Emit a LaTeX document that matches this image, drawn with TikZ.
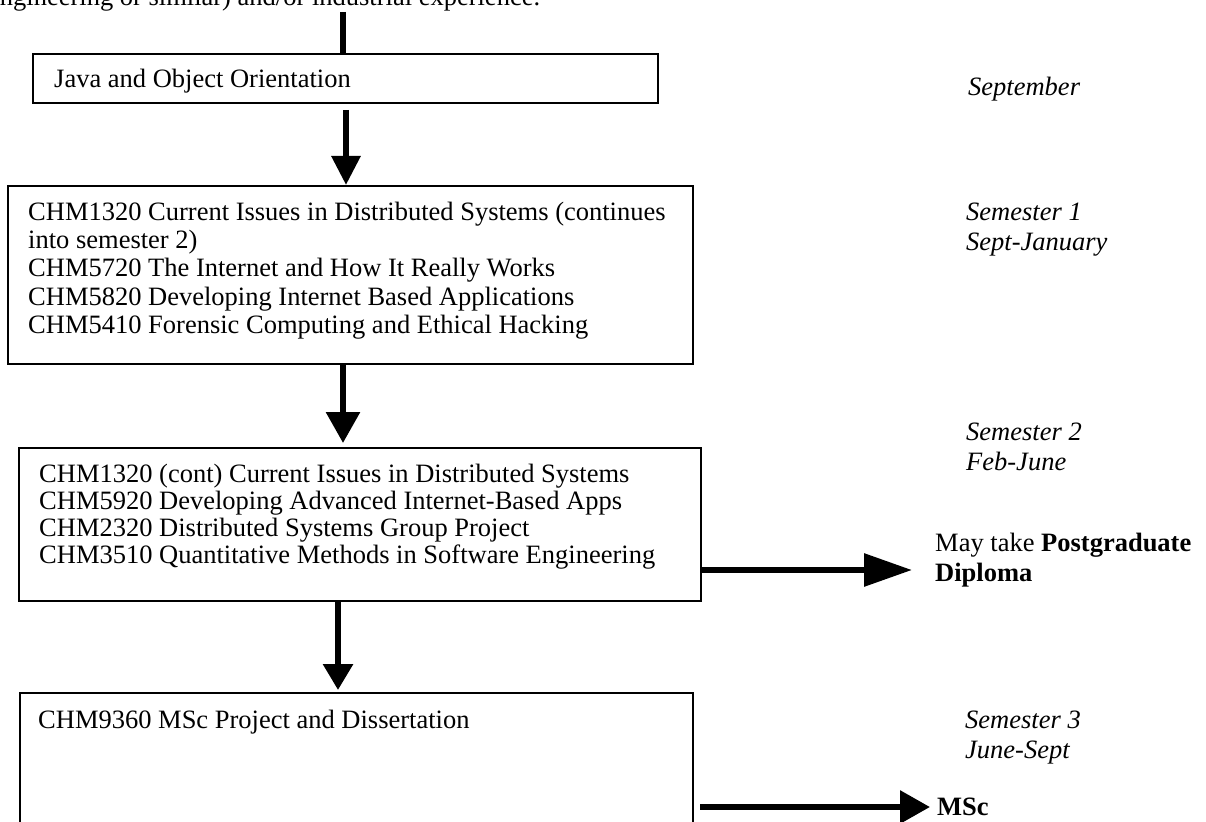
\documentclass[tikz,border=0pt]{standalone}
\usepackage{fontspec}
\setmainfont{Liberation Serif}
\usetikzlibrary{arrows.meta}
\tikzset{
  box/.style={draw, line width=2pt, inner sep=0pt, anchor=north west},
  txt/.style={inner sep=0pt, anchor=base west, font=\fontsize{26.5}{28}\selectfont},
  itx/.style={inner sep=0pt, anchor=base west, font=\fontsize{26.5}{28}\selectfont\itshape},
  shaft/.style={line width=6pt, line cap=butt},
}
\begin{document}
\begin{tikzpicture}[x=1pt,y=-1pt]
\useasboundingbox (0,0) rectangle (1206,821);
\fill[white] (0,0) rectangle (1206,821);

% top (clipped) text
\node[txt] (intro) at (-12,6) {engineering or similar) and/or industrial experience.};

% boxes
\node[box, minimum width=625pt, minimum height=49pt] (b1) at (32,53) {};
\node[box, minimum width=685pt, minimum height=178pt] (b2) at (7,185) {};
\node[box, minimum width=682pt, minimum height=153pt] (b3) at (18,447) {};
\node[box, minimum width=673pt, minimum height=150pt] (b4) at (19,692) {};

% box texts
\node[txt] (t1) at (54,88) {Java and Object Orientation};

\node[txt] (t21) at (28,220) {CHM1320 Current Issues in Distributed Systems (continues};
\node[txt] (t22) at (28,248.3) {into semester 2)};
\node[txt] (t23) at (28,276.6) {CHM5720 The Internet and How It Really Works};
\node[txt] (t24) at (28,305) {CHM5820 Developing Internet Based Applications};
\node[txt] (t25) at (28,333) {CHM5410 Forensic Computing and Ethical Hacking};

\node[txt] (t31) at (39,482) {CHM1320 (cont) Current Issues in Distributed Systems};
\node[txt] (t32) at (39,509) {CHM5920 Developing Advanced Internet-Based Apps};
\node[txt] (t33) at (39,536) {CHM2320 Distributed Systems Group Project};
\node[txt] (t34) at (39,563) {CHM3510 Quantitative Methods in Software Engineering};

\node[txt] (t41) at (38,728) {CHM9360 MSc Project and Dissertation};

% right column
\node[itx] (sep) at (968,96) {September};
\node[itx] (s1a) at (966,220) {Semester 1};
\node[itx] (s1b) at (966,250) {Sept-January};
\node[itx] (s2a) at (966,440) {Semester 2};
\node[itx] (s2b) at (966,470) {Feb-June};
\node[txt] (pg1) at (935,551) {May take \textbf{Postgraduate}};
\node[txt] (pg2) at (935,581) {\textbf{Diploma}};
\node[itx] (s3a) at (965,728) {Semester 3};
\node[itx] (s3b) at (965,758) {June-Sept};
\node[txt] (msc) at (937,815) {\textbf{MSc}};

% connectors
\coordinate (top) at (343,12);
\draw[line width=5.5pt] (top) -- (top |- b1.north);

\coordinate (xA) at (346,110);
\draw[shaft, -{Triangle[length=29pt,width=28pt]}] (xA) -- (xA |- b2.north);

\coordinate (xB) at (343,0);
\draw[shaft, -{Triangle[length=31pt,width=33pt]}, shorten >=4pt] (xB |- b2.south) -- (xB |- b3.north);

\coordinate (xC) at (338,0);
\draw[shaft, -{Triangle[length=26pt,width=29pt]}, shorten >=2pt] (xC |- b3.south) -- (xC |- b4.north);

\coordinate (yR1) at (0,570);
\draw[shaft, -{Triangle[length=48pt,width=32pt]}, shorten >=23pt] (b3.east |- yR1) -- (pg1.west |- yR1);

\coordinate (yR2) at (0,807);
\draw[shaft, -{Triangle[length=30pt,width=32pt]}, shorten <=6pt, shorten >=7pt] (b4.east |- yR2) -- (msc.west |- yR2);
\end{tikzpicture}
\end{document}
